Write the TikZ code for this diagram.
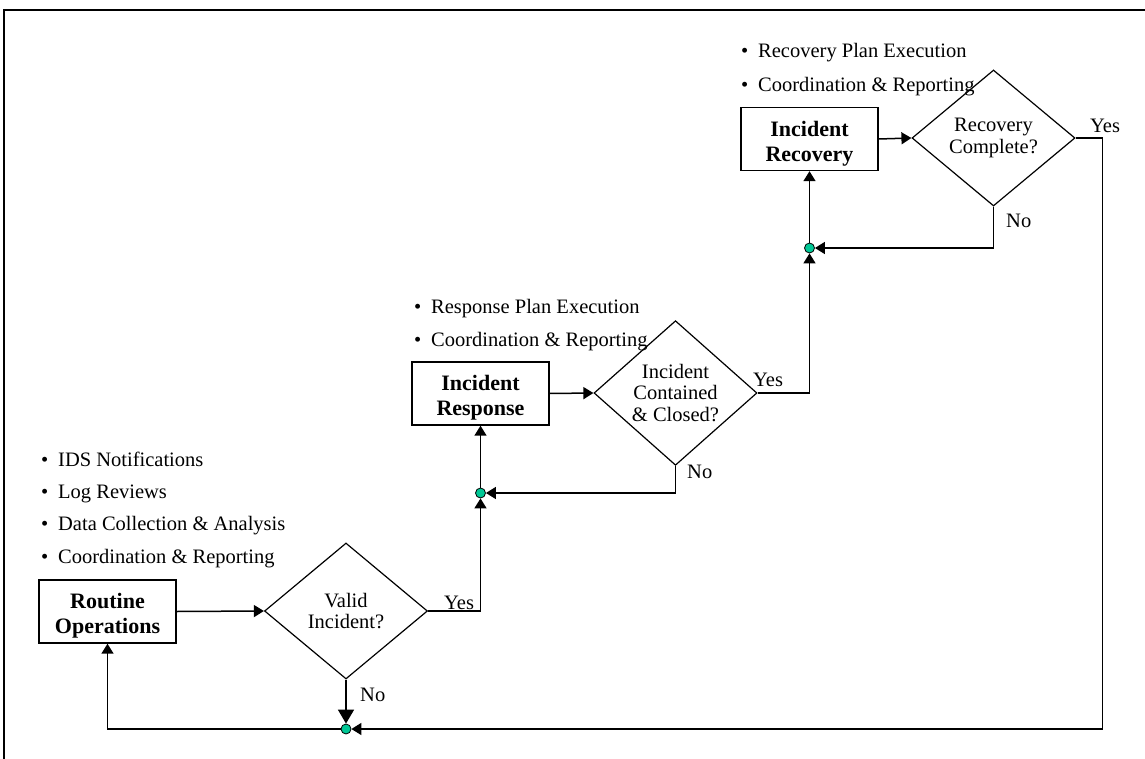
\documentclass[tikz,border=0pt]{standalone}
\usepackage{fontspec}
\setmainfont{Liberation Serif}
\usetikzlibrary{shapes.geometric,arrows.meta}
\definecolor{dotgreen}{RGB}{0,200,150}
\begin{document}
\begin{tikzpicture}[x=1pt,y=-1pt,
  stepbox/.style={draw,line width=1.4pt,rectangle,minimum width=137pt,minimum height=63pt,inner sep=0pt},
  boxtext/.style={font=\fontsize{22}{25}\selectfont\bfseries,align=center,inner sep=0pt,yshift=-4.5pt},
  decision/.style={draw,line width=1.2pt,diamond,minimum width=163pt,minimum height=136pt,inner sep=0pt,align=center,font=\fontsize{20.5}{21.5}\selectfont},
  junction/.style={circle,draw,fill=dotgreen,line width=0.8pt,minimum size=10pt,inner sep=0pt},
  conn/.style={line width=1.5pt},
  arr/.style={conn,-{Triangle[length=10pt,width=12pt]}},
  bigarr/.style={conn,-{Triangle[length=14pt,width=16pt]}},
  bullet/.style={anchor=base west,inner sep=0pt,font=\fontsize{20.5}{24}\selectfont},
  answer/.style={anchor=base west,inner sep=0pt,font=\fontsize{20.5}{24}\selectfont},
]
\useasboundingbox (0,0) rectangle (1145,759);

% outer frame
\draw[line width=2pt] (3.5,759) -- (3.5,10.5) -- (1145,10.5);

% process boxes
\node[stepbox,label={[boxtext]center:Routine\\Operations}] (ro) at (107.5,611.5) {};
\node[stepbox,label={[boxtext]center:Incident\\Response}] (ir) at (480.5,393.5) {};
\node[stepbox,label={[boxtext]center:Incident\\Recovery}] (rr) at (809.5,139) {};

% decisions
\node[decision] (vi) at (346,611) {Valid\\Incident?};
\node[decision] (ic) at (675.5,393) {Incident\\Contained\\\& Closed?};
\node[decision] (rc) at (993.5,138) {Recovery\\Complete?};

% junction dots
\node[junction] (j1) at (346,729) {};
\node[junction] (j2) at (480.5,493) {};
\node[junction] (j3) at (809.5,248) {};

% activity lists
\node[bullet] (a1) at (41,466) {\makebox[17pt][l]{•}IDS Notifications};
\node[bullet] (a2) at (41,498) {\makebox[17pt][l]{•}Log Reviews};
\node[bullet] (a3) at (41,530.5) {\makebox[17pt][l]{•}Data Collection \& Analysis};
\node[bullet] (a4) at (41,563) {\makebox[17pt][l]{•}Coordination \& Reporting};
\node[bullet] (b1) at (414,313) {\makebox[17pt][l]{•}Response Plan Execution};
\node[bullet] (b2) at (414,346) {\makebox[17pt][l]{•}Coordination \& Reporting};
\node[bullet] (c1) at (741,58) {\makebox[17pt][l]{•}Recovery Plan Execution};
\node[bullet] (c2) at (741,92) {\makebox[17pt][l]{•}Coordination \& Reporting};

% branch labels
\node[answer] (viy) at (444,609) {Yes};
\node[answer] (vin) at (360,701) {No};
\node[answer] (icy) at (753,386) {Yes};
\node[answer] (icn) at (687,478) {No};
\node[answer] (rcy) at (1090,133) {Yes};
\node[answer] (rcn) at (1006,228) {No};

% connectors
\draw[arr] (ro.east) -- (vi.west);
\draw[arr] (vi.east) -| (j2.south);
\draw[bigarr] (vi.south) -- (j1.north);
\draw[arr] (j1.west) -| (ro.south);
\draw[arr] (rc.east) -- ++(27,0) |- (j1.east);
\draw[arr] (j2.north) -- (ir.south);
\draw[arr] (ir.east) -- (ic.west);
\draw[arr] (ic.south) |- (j2.east);
\draw[arr] (ic.east) -| (j3.south);
\draw[arr] (j3.north) -- (rr.south);
\draw[arr] (rr.east) -- (rc.west);
\draw[arr] (rc.south) |- (j3.east);
\end{tikzpicture}
\end{document}
